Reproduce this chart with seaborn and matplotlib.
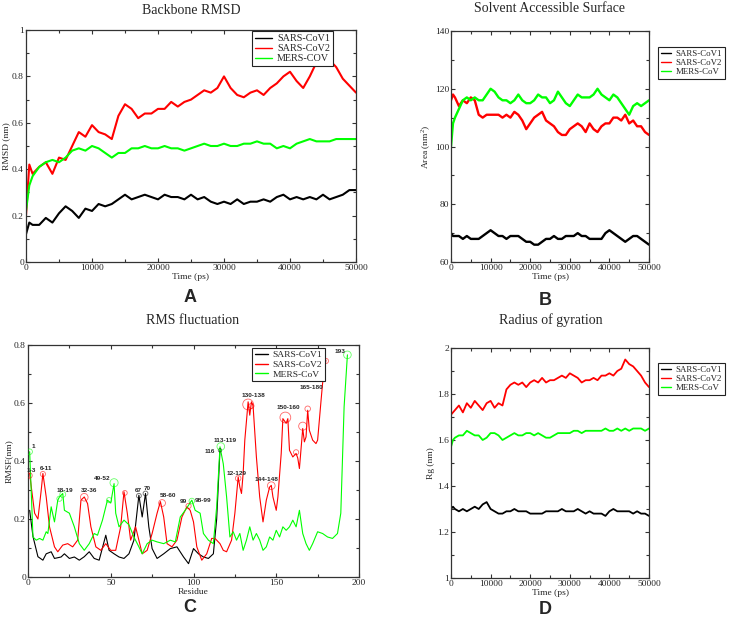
import matplotlib
matplotlib.use("Agg")
import matplotlib.pyplot as plt
import numpy as np
import pandas as pd
import seaborn as sns
from matplotlib.ticker import MultipleLocator, FormatStrFormatter
from matplotlib.lines import Line2D

# ---------------- data ----------------
series_names = ["SARS-CoV1", "SARS-CoV2", "MERS-CoV"]
legend_A = ["SARS-CoV1", "SARS-CoV2", "MERS-COV"]
colors = ["#000000", "#ff0000", "#00ff00"]

time_ps = [0, 500] + list(range(1000, 50001, 1000))

# Backbone RMSD (nm)
rmsd_cov1 = [0.12, 0.17, 0.16, 0.16, 0.19, 0.17, 0.21, 0.24, 0.22, 0.19, 0.23, 0.22, 0.25,
             0.24, 0.25, 0.27, 0.29, 0.27, 0.28, 0.29, 0.28, 0.27, 0.29, 0.28, 0.28, 0.27,
             0.29, 0.27, 0.28, 0.26, 0.25, 0.26, 0.25, 0.27, 0.25, 0.26, 0.26, 0.27, 0.26,
             0.28, 0.29, 0.27, 0.28, 0.27, 0.28, 0.27, 0.29, 0.27, 0.28, 0.29, 0.31, 0.31]
rmsd_cov2 = [0.20, 0.42, 0.38, 0.41, 0.43, 0.38, 0.45, 0.44, 0.50, 0.56, 0.54, 0.59, 0.56,
             0.55, 0.53, 0.63, 0.68, 0.66, 0.62, 0.64, 0.64, 0.66, 0.66, 0.69, 0.67, 0.69,
             0.70, 0.72, 0.74, 0.73, 0.75, 0.80, 0.75, 0.72, 0.71, 0.73, 0.74, 0.72, 0.75,
             0.77, 0.80, 0.82, 0.78, 0.75, 0.80, 0.86, 0.85, 0.87, 0.84, 0.79, 0.76, 0.73]
rmsd_mers = [0.22, 0.33, 0.37, 0.41, 0.43, 0.44, 0.43, 0.45, 0.48, 0.49, 0.48, 0.50, 0.49,
             0.47, 0.45, 0.47, 0.47, 0.49, 0.49, 0.50, 0.49, 0.49, 0.50, 0.49, 0.49, 0.48,
             0.49, 0.50, 0.51, 0.50, 0.50, 0.51, 0.50, 0.50, 0.51, 0.51, 0.52, 0.51, 0.51,
             0.49, 0.50, 0.49, 0.51, 0.52, 0.53, 0.52, 0.52, 0.52, 0.53, 0.53, 0.53, 0.53]

# Solvent accessible surface (nm^2)
sasa_cov1 = [70, 69, 69, 69, 68, 69, 68, 68, 68, 69, 70, 71, 70, 69, 69, 68, 69, 69, 69,
             68, 67, 67, 66, 66, 67, 68, 68, 69, 68, 68, 69, 69, 69, 70, 69, 69, 68, 68,
             68, 68, 70, 71, 70, 69, 68, 67, 68, 69, 69, 68, 67, 66]
sasa_cov2 = [116, 118, 117, 114, 116, 115, 117, 116, 111, 110, 111, 111, 111, 111, 110,
             111, 110, 112, 111, 109, 106, 108, 110, 111, 112, 109, 108, 107, 105, 104,
             104, 106, 107, 108, 107, 105, 108, 106, 105, 107, 108, 108, 110, 110, 109,
             111, 108, 109, 107, 107, 105, 104]
sasa_mers = [100, 108, 110, 113, 116, 117, 116, 117, 116, 116, 118, 120, 119, 117, 116,
             116, 115, 116, 118, 116, 115, 115, 116, 118, 117, 117, 115, 116, 119, 117,
             115, 114, 116, 118, 117, 117, 117, 118, 120, 118, 117, 116, 118, 117, 115,
             113, 111, 114, 115, 114, 115, 116]

# Radius of gyration (nm)
rg_cov1 = [1.30, 1.31, 1.30, 1.29, 1.30, 1.29, 1.30, 1.31, 1.30, 1.32, 1.33, 1.30, 1.29,
           1.28, 1.28, 1.29, 1.29, 1.30, 1.29, 1.29, 1.29, 1.28, 1.28, 1.28, 1.28, 1.29,
           1.29, 1.29, 1.29, 1.30, 1.29, 1.29, 1.29, 1.30, 1.29, 1.28, 1.29, 1.28, 1.28,
           1.28, 1.27, 1.29, 1.30, 1.29, 1.29, 1.29, 1.29, 1.28, 1.29, 1.28, 1.28, 1.27]
rg_cov2 = [1.71, 1.72, 1.73, 1.75, 1.72, 1.76, 1.74, 1.77, 1.75, 1.73, 1.76, 1.77, 1.74,
           1.76, 1.75, 1.82, 1.84, 1.85, 1.84, 1.85, 1.83, 1.85, 1.86, 1.85, 1.87, 1.85,
           1.86, 1.86, 1.87, 1.88, 1.87, 1.89, 1.88, 1.87, 1.85, 1.86, 1.86, 1.87, 1.86,
           1.88, 1.88, 1.89, 1.88, 1.90, 1.91, 1.95, 1.93, 1.92, 1.90, 1.88, 1.85, 1.83]
rg_mers = [1.57, 1.60, 1.61, 1.62, 1.62, 1.64, 1.63, 1.62, 1.62, 1.60, 1.61, 1.63, 1.63,
           1.62, 1.60, 1.61, 1.62, 1.63, 1.62, 1.62, 1.63, 1.63, 1.62, 1.63, 1.62, 1.61,
           1.61, 1.62, 1.63, 1.63, 1.63, 1.63, 1.64, 1.64, 1.63, 1.64, 1.64, 1.64, 1.64,
           1.64, 1.65, 1.64, 1.64, 1.65, 1.64, 1.65, 1.64, 1.65, 1.65, 1.65, 1.64, 1.65]

# RMS fluctuation (nm) per residue
res_cov1 = [1, 3, 6, 9, 11, 14, 16, 20, 22, 25, 28, 31, 34, 37, 40, 43, 47, 49, 52, 55,
            58, 61, 64, 67, 69, 71, 73, 75, 78, 82, 86, 90, 94, 97, 100, 103, 106, 109,
            112, 114, 116]
rmsf_cov1 = [0.23, 0.14, 0.07, 0.058, 0.08, 0.087, 0.064, 0.069, 0.08, 0.064, 0.069, 0.058,
             0.07, 0.087, 0.064, 0.058, 0.144, 0.092, 0.08, 0.069, 0.064, 0.08, 0.127,
             0.282, 0.207, 0.288, 0.173, 0.098, 0.064, 0.08, 0.098, 0.104, 0.069, 0.046,
             0.098, 0.08, 0.069, 0.064, 0.08, 0.2, 0.437]
res_cov2 = [1, 2, 4, 6, 8, 9, 11, 13, 16, 18, 21, 24, 27, 30, 32, 34, 36, 38, 41, 44,
            47, 50, 53, 56, 58, 60, 62, 65, 67, 69, 72, 75, 78, 80, 82, 84, 87, 90, 93, 96,
            98, 100, 102, 105, 108, 111, 113, 116, 118, 120, 123, 125, 127, 128, 129, 130,
            131, 133, 134, 135, 136, 138, 140, 142, 144, 146, 147, 148, 150, 151, 153, 154,
            156, 157, 158, 160, 162, 163, 164, 166, 167, 168, 169, 170, 172, 174, 175, 177,
            178, 180]
rmsf_cov2 = [0.357, 0.31, 0.22, 0.20, 0.30, 0.357, 0.276, 0.173, 0.104, 0.087, 0.11, 0.115,
             0.104, 0.127, 0.265, 0.276, 0.253, 0.173, 0.104, 0.092, 0.115, 0.092, 0.092,
             0.173, 0.294, 0.22, 0.127, 0.173, 0.127, 0.08, 0.092, 0.15, 0.22, 0.26, 0.207,
             0.115, 0.104, 0.127, 0.207, 0.242, 0.23, 0.19, 0.104, 0.058, 0.08, 0.133, 0.133,
             0.115, 0.092, 0.087, 0.127, 0.22, 0.345, 0.31, 0.288, 0.357, 0.472, 0.604,
             0.558, 0.604, 0.59, 0.414, 0.276, 0.19, 0.265, 0.31, 0.316, 0.276, 0.23, 0.276,
             0.426, 0.546, 0.53, 0.546, 0.437, 0.414, 0.426, 0.41, 0.374, 0.512, 0.466,
             0.483, 0.575, 0.506, 0.472, 0.46, 0.472, 0.604, 0.668, 0.748]
res_mers = [1, 2, 3, 5, 7, 9, 11, 12, 14, 16, 18, 19, 21, 22, 25, 28, 31, 34, 37, 40, 42,
            45, 48, 50, 52, 53, 55, 58, 61, 64, 67, 69, 72, 75, 78, 82, 86, 89, 92, 95, 99,
            101, 104, 106, 109, 112, 114, 116, 118, 120, 122, 124, 126, 128, 130, 132, 134,
            136, 138, 140, 142, 144, 146, 148, 150, 152, 154, 156, 158, 160, 162, 164, 166,
            168, 170, 172, 175, 178, 181, 184, 187, 189, 191, 193]
rmsf_mers = [0.432, 0.288, 0.138, 0.127, 0.133, 0.127, 0.156, 0.15, 0.242, 0.19, 0.265,
             0.276, 0.288, 0.23, 0.22, 0.173, 0.115, 0.092, 0.115, 0.15, 0.144, 0.196,
             0.265, 0.255, 0.322, 0.22, 0.173, 0.196, 0.18, 0.138, 0.104, 0.08, 0.115,
             0.127, 0.121, 0.115, 0.127, 0.121, 0.207, 0.23, 0.265, 0.23, 0.22, 0.15, 0.127,
             0.115, 0.242, 0.449, 0.39, 0.276, 0.138, 0.156, 0.127, 0.15, 0.092, 0.127,
             0.173, 0.127, 0.15, 0.127, 0.092, 0.104, 0.138, 0.127, 0.161, 0.138, 0.173,
             0.161, 0.173, 0.196, 0.173, 0.23, 0.15, 0.115, 0.092, 0.115, 0.156, 0.15,
             0.138, 0.133, 0.15, 0.22, 0.587, 0.766]

# annotation labels on RMSF panel
ann_text = ["1", "1-3", "6-11", "18-19", "32-36", "49-52", "67", "70", "58-60", "99",
            "98-99", "116", "113-119", "12-129", "130-138", "144-148", "150-160",
            "165-180", "193"]
ann_x = [3, 2, 11, 22, 37, 45, 66.5, 72, 84.5, 94, 106, 110, 119, 126, 136.5, 144, 157,
         171, 188.5]
ann_y = [0.449, 0.366, 0.374, 0.30, 0.297, 0.34, 0.297, 0.305, 0.28, 0.259, 0.265, 0.432,
         0.472, 0.357, 0.625, 0.337, 0.585, 0.652, 0.777]

# highlighted residues (circles)
circ_x = [1, 1, 9, 19, 21, 34, 49, 52, 58.5, 67, 71, 81, 97, 99, 116, 116.5, 127, 133,
          135, 147, 155.5, 162, 166, 169, 180, 193]
circ_y = [0.432, 0.35, 0.355, 0.27, 0.285, 0.275, 0.265, 0.325, 0.29, 0.28, 0.288, 0.255,
          0.245, 0.262, 0.437, 0.45, 0.34, 0.595, 0.59, 0.315, 0.55, 0.43, 0.52, 0.58,
          0.745, 0.766]
circ_series = ["MERS-CoV", "SARS-CoV2", "SARS-CoV2", "MERS-CoV", "MERS-CoV", "SARS-CoV2",
               "MERS-CoV", "MERS-CoV", "SARS-CoV2", "SARS-CoV1", "SARS-CoV1", "SARS-CoV2",
               "SARS-CoV2", "MERS-CoV", "SARS-CoV1", "MERS-CoV", "SARS-CoV2", "SARS-CoV2",
               "SARS-CoV2", "SARS-CoV2", "SARS-CoV2", "SARS-CoV2", "SARS-CoV2", "SARS-CoV2",
               "SARS-CoV2", "MERS-CoV"]
circ_size = [16, 14, 14, 14, 18, 30, 14, 34, 12, 12, 12, 24, 14, 16, 6, 30, 16, 60, 14,
             30, 60, 14, 34, 16, 14, 30]

# ---------------- style ----------------
sns.set_style("ticks")
plt.rcParams["font.family"] = ["Liberation Serif", "DejaVu Serif"]
plt.rcParams["mathtext.fontset"] = "custom"
plt.rcParams["mathtext.rm"] = "Liberation Serif"
plt.rcParams["axes.edgecolor"] = "#333333"
plt.rcParams["axes.linewidth"] = 0.9

W, H = 729, 619
fig = plt.figure(figsize=(W / 100, H / 100), dpi=100)
palette = dict(zip(series_names, colors))


def rect(x0, x1, y0, y1):
    return [x0 / W, 1 - y1 / H, (x1 - x0) / W, (y1 - y0) / H]


def long_df(xs, ys_list, names):
    frames = []
    for x, y, n in zip(xs, ys_list, names):
        frames.append(pd.DataFrame({"x": x, "y": y, "series": n}))
    return pd.concat(frames, ignore_index=True)


def style_axes(ax, xmaj, xmin, ymaj, ymin, xlim, ylim, xfmt="%g", yfmt="%g"):
    ax.set_xlim(*xlim)
    ax.set_ylim(*ylim)
    ax.xaxis.set_major_locator(MultipleLocator(xmaj))
    ax.xaxis.set_minor_locator(MultipleLocator(xmin))
    ax.yaxis.set_major_locator(MultipleLocator(ymaj))
    ax.yaxis.set_minor_locator(MultipleLocator(ymin))
    ax.xaxis.set_major_formatter(FormatStrFormatter(xfmt))
    ax.yaxis.set_major_formatter(FormatStrFormatter(yfmt))
    ax.tick_params(which="both", direction="in", top=True, right=True,
                   color="#333333", width=0.8)
    ax.tick_params(which="major", length=3.2, labelsize=6.8, pad=1.5)
    ax.tick_params(which="minor", length=2.2)
    for s in ax.spines.values():
        s.set_visible(True)


def add_legend(ax, labels, fs=6.4, hl=1.2, **kw):
    handles = [Line2D([0], [0], color=c, lw=1.0) for c in colors]
    leg = ax.legend(handles, labels, fontsize=fs, handlelength=hl, handletextpad=0.5,
                    borderpad=0.3, labelspacing=0.1, fancybox=False, framealpha=1,
                    edgecolor="#222222", borderaxespad=0, **kw)
    leg.get_frame().set_linewidth(0.8)
    return leg


def ts_panel(ax, ys, lw=1.4):
    df = long_df([time_ps] * 3, ys, series_names)
    sns.lineplot(data=df, x="x", y="y", hue="series", palette=palette, estimator=None,
                 sort=False, legend=False, linewidth=lw, ax=ax)
    ax.set_xlabel("Time (ps)", fontsize=6.8, labelpad=0.5)


# ----- A: backbone RMSD -----
axA = fig.add_axes(rect(26, 356, 30, 262))
ts_panel(axA, [rmsd_cov1, rmsd_cov2, rmsd_mers], lw=1.5)
style_axes(axA, 10000, 5000, 0.2, 0.1, (0, 50000), (0, 1))
axA.set_ylabel("RMSD (nm)", fontsize=6.8, labelpad=1)
add_legend(axA, legend_A, fs=7.3, hl=1.7, loc="upper right",
           bbox_to_anchor=((333 - 26) / 330, (262 - 31) / 232))

# ----- B: SASA -----
axB = fig.add_axes(rect(451, 649, 31, 262))
ts_panel(axB, [sasa_cov1, sasa_cov2, sasa_mers], lw=1.7)
style_axes(axB, 10000, 5000, 20, 10, (0, 50000), (60, 140))
axB.set_ylabel("Area (nm$^{2}$)", fontsize=6.8, labelpad=1.5)
add_legend(axB, series_names, loc="upper left", bbox_to_anchor=(658 / W, 1 - 47 / H),
           bbox_transform=fig.transFigure)

# ----- C: RMSF -----
axC = fig.add_axes(rect(28, 359, 345, 577))
dfC = long_df([res_cov1, res_cov2, res_mers], [rmsf_cov1, rmsf_cov2, rmsf_mers],
              series_names)
sns.lineplot(data=dfC, x="x", y="y", hue="series", palette=palette, estimator=None,
             sort=False, legend=False, linewidth=0.8, ax=axC)
dfCirc = pd.DataFrame({"x": circ_x, "y": circ_y, "series": circ_series, "s": circ_size})
for name in series_names:
    sub = dfCirc[dfCirc["series"] == name]
    axC.scatter(sub["x"], sub["y"], s=sub["s"], facecolors="none",
                edgecolors=palette[name], linewidths=0.6, alpha=0.6, zorder=4)
for t, x, y in zip(ann_text, ann_x, ann_y):
    axC.text(x, y, t, fontsize=4.6, fontweight="bold", family="Liberation Sans",
             ha="center", va="center", zorder=5)
style_axes(axC, 50, 25, 0.2, 0.1, (0, 200), (0, 0.8))
axC.set_xlabel("Residue", fontsize=6.8, labelpad=0.5)
axC.set_ylabel("RMSF(nm)", fontsize=6.8, labelpad=1)
add_legend(axC, series_names, fs=6.8, hl=1.4, loc="upper right",
           bbox_to_anchor=((325 - 28) / 331, (577 - 348) / 232))

# ----- D: radius of gyration -----
axD = fig.add_axes(rect(451, 649, 348, 578))
ts_panel(axD, [rg_cov1, rg_cov2, rg_mers], lw=1.3)
style_axes(axD, 10000, 5000, 0.2, 0.1, (0, 50000), (1, 2))
axD.set_ylabel("Rg (nm)", fontsize=6.8, labelpad=1.5)
add_legend(axD, series_names, loc="upper left", bbox_to_anchor=(658 / W, 1 - 363 / H),
           bbox_transform=fig.transFigure)

# ----- titles and panel letters -----
for txt, x, y in [("Backbone RMSD", 191, 11), ("Solvent Accessible Surface", 550, 9),
                  ("RMS fluctuation", 193, 320), ("Radius of gyration", 551, 320)]:
    fig.text(x / W, 1 - y / H, txt, ha="center", va="center", fontsize=10)
for txt, x, y in [("A", 190, 298), ("B", 545, 300), ("C", 190, 607), ("D", 545, 610)]:
    fig.text(x / W, 1 - y / H, txt, ha="center", va="center", fontsize=13,
             fontweight="bold", family="Liberation Sans")

fig.savefig("out.png", dpi=100)
